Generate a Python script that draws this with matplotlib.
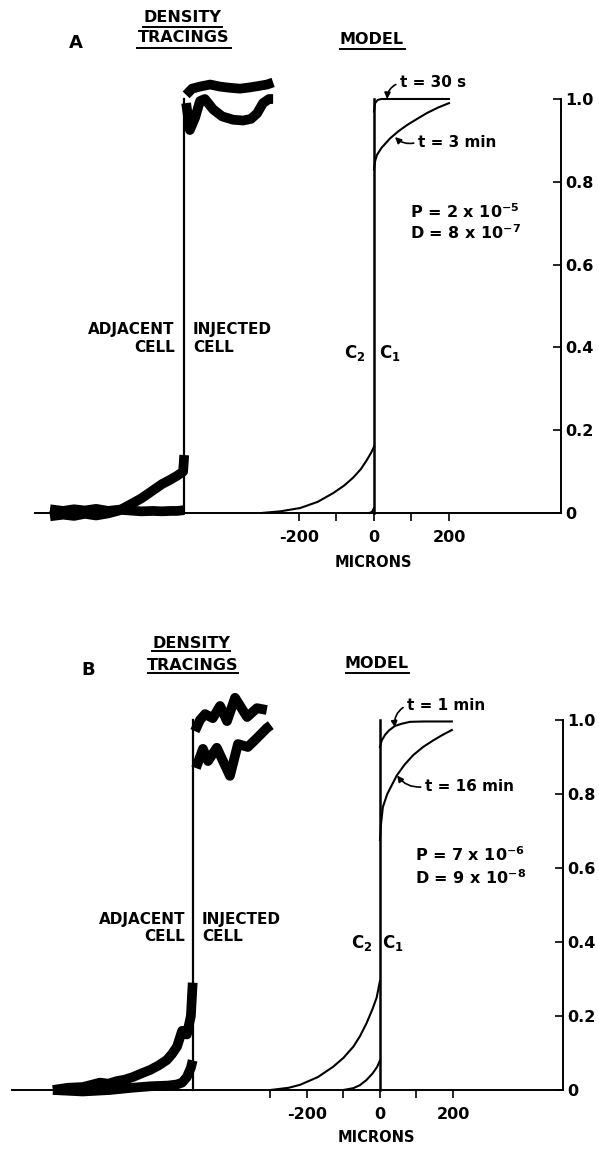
import matplotlib
matplotlib.use("Agg")
import matplotlib.pyplot as plt
from matplotlib.lines import Line2D

W, H = 599, 1149

# ---------------- Panel A data ----------------
# density tracings (microns, relative density)
a_adj_up_x = [-864, -829, -800, -771, -741, -709, -680, -651, -621, -589, -565, -544, -525, -509, -506]
a_adj_up_y = [-0.008, -0.004, -0.007, -0.002, -0.006, -0.001, 0.006, 0.02, 0.035, 0.055, 0.07, 0.08, 0.09, 0.1, 0.14]
a_adj_lo_x = [-864, -829, -800, -771, -741, -709, -680, -651, -621, -589, -565, -544, -525, -506]
a_adj_lo_y = [0.009, 0.005, 0.009, 0.006, 0.01, 0.005, 0.008, 0.006, 0.004, 0.005, 0.004, 0.005, 0.005, 0.007]
a_inj_up_x = [-501, -485, -464, -437, -411, -384, -357, -331, -304, -285, -269]
a_inj_up_y = [1.01, 1.025, 1.03, 1.035, 1.03, 1.027, 1.025, 1.028, 1.032, 1.035, 1.04]
a_inj_lo_x = [-501, -491, -477, -464, -451, -429, -405, -376, -349, -328, -312, -296, -280, -269]
a_inj_lo_y = [0.99, 0.925, 0.955, 0.995, 1.0, 0.975, 0.958, 0.95, 0.948, 0.952, 0.965, 0.99, 1.0, 1.0]
a_step_x = -506

# model curves
a_c2_3min_x = [-300, -250, -197, -150, -109, -80, -56, -35, -19, -8, 0]
a_c2_3min_y = [0.0, 0.004, 0.012, 0.027, 0.048, 0.066, 0.085, 0.106, 0.128, 0.145, 0.16]
a_c1_3min_x = [0, 3, 8, 20, 43, 65, 88, 115, 141, 170, 200]
a_c1_3min_y = [0.83, 0.85, 0.865, 0.882, 0.905, 0.922, 0.937, 0.952, 0.966, 0.979, 0.99]
a_c2_30s_x = [-12, -5, 0]
a_c2_30s_y = [0.0, 0.003, 0.012]
a_c1_30s_x = [0, 3, 10, 20, 200]
a_c1_30s_y = [0.97, 0.99, 0.998, 1.0, 1.0]

# ---------------- Panel B data ----------------
b_adj_up_x = [-896, -855, -814, -790, -767, -744, -721, -699, -677, -653, -630, -607, -584, -570, -556, -542, -529, -518, -513]
b_adj_up_y = [0.0, 0.006, 0.008, 0.014, 0.02, 0.017, 0.024, 0.028, 0.035, 0.045, 0.054, 0.066, 0.081, 0.097, 0.117, 0.16, 0.15, 0.2, 0.29]
b_adj_lo_x = [-896, -814, -740, -680, -630, -580, -556, -542, -529, -518, -513]
b_adj_lo_y = [0.0, -0.004, 0.0, 0.006, 0.01, 0.012, 0.015, 0.02, 0.035, 0.06, 0.08]
b_inj_up_x = [-507, -493, -479, -458, -438, -419, -397, -364, -337, -310]
b_inj_up_y = [0.97, 1.0, 1.016, 1.005, 1.038, 0.997, 1.06, 1.008, 1.032, 1.027]
b_inj_lo_x = [-504, -485, -471, -447, -411, -389, -362, -337, -310, -299]
b_inj_lo_y = [0.87, 0.922, 0.889, 0.925, 0.849, 0.935, 0.927, 0.951, 0.978, 0.986]
b_step_x = -512

b_c2_16min_x = [-300, -250, -219, -170, -128, -100, -73, -55, -37, -20, -9, 0]
b_c2_16min_y = [0.0, 0.006, 0.014, 0.035, 0.063, 0.087, 0.117, 0.145, 0.18, 0.22, 0.25, 0.295]
b_c1_16min_x = [0, 3, 8, 20, 46, 68, 91, 118, 146, 172, 197]
b_c1_16min_y = [0.676, 0.72, 0.765, 0.8, 0.85, 0.88, 0.905, 0.927, 0.945, 0.96, 0.973]
b_c2_1min_x = [-100, -73, -55, -37, -20, -8, 0]
b_c2_1min_y = [0.0, 0.005, 0.013, 0.027, 0.045, 0.062, 0.08]
b_c1_1min_x = [0, 5, 14, 25, 41, 60, 82, 120, 197]
b_c1_1min_y = [0.927, 0.945, 0.96, 0.972, 0.984, 0.99, 0.995, 0.996, 0.996]

x_ticks_a = [-200, -100, 0, 100, 200]
x_ticks_b = [-300, -200, -100, 0, 100, 200]
y_ticks = [0, 0.2, 0.4, 0.6, 0.8, 1.0]
y_labels = ['0', '0.2', '0.4', '0.6', '0.8', '1.0']

plt.rcParams['font.family'] = ['DejaVu Sans']
plt.rcParams['font.weight'] = 'bold'
plt.rcParams['mathtext.fontset'] = 'dejavusans'
plt.rcParams['mathtext.default'] = 'bf'

fig = plt.figure(figsize=(W / 100, H / 100), dpi=100, facecolor='white')


def px_axes(xl, xr, y0, ppu, ylo, yhi):
    bot = y0 - ylo * ppu
    top = y0 - yhi * ppu
    return fig.add_axes([xl / W, 1 - bot / H, (xr - xl) / W, (bot - top) / H])


def ftext(x, y, s, **kw):
    fig.text(x / W, 1 - y / H, s, **kw)


def uline(x1, x2, y):
    fig.add_artist(Line2D([x1 / W, x2 / W], [1 - y / H, 1 - y / H], color='black', lw=1.4))


def style_axes(ax, xlim, ylim, xticks):
    ax.set_xlim(xlim)
    ax.set_ylim(ylim)
    ax.spines['top'].set_visible(False)
    ax.spines['left'].set_visible(False)
    ax.spines['bottom'].set_position(('data', 0))
    ax.spines['bottom'].set_bounds(xlim[0], xlim[1])
    ax.spines['right'].set_bounds(0, 1.0)
    for s in ('bottom', 'right'):
        ax.spines[s].set_linewidth(1.4)
    ax.yaxis.tick_right()
    ax.set_yticks(y_ticks)
    ax.set_yticklabels(y_labels)
    ax.set_xticks(xticks)
    ax.set_xticklabels([('-200' if t == -200 else str(t)) if t in (-200, 0, 200) else '' for t in xticks])
    ax.tick_params(axis='y', direction='in', length=6, width=1.2, pad=3, labelsize=11.5)
    ax.tick_params(axis='x', direction='out', length=6, width=1.2, pad=6, labelsize=11.5)
    ax.patch.set_alpha(0)


def draw_panel(ax, adj_up, adj_lo, inj_up, inj_lo, step_x, model):
    band = dict(color='black', lw=7, solid_joinstyle='round', solid_capstyle='butt')
    ax.plot(*adj_lo, **band)
    ax.plot(*adj_up, **band)
    ax.plot(*inj_up, **band)
    ax.plot(*inj_lo, **band)
    ax.plot([step_x, step_x], [0, 1.0], color='black', lw=1.6)
    ax.plot([0, 0], [0, 1.0], color='black', lw=1.8)
    for xs, ys in model:
        ax.plot(xs, ys, color='black', lw=1.5)


arrow = dict(arrowstyle='-|>', color='black', lw=1.2, mutation_scale=9, relpos=(0, 0.5),
             shrinkA=1, shrinkB=0)
lab = dict(fontsize=11, fontweight='bold')

# ================= Panel A =================
axA = px_axes(35, 561, 513, 414, -0.04, 1.1)
style_axes(axA, (-904, 498.7), (-0.04, 1.1), x_ticks_a)
draw_panel(axA, (a_adj_up_x, a_adj_up_y), (a_adj_lo_x, a_adj_lo_y),
           (a_inj_up_x, a_inj_up_y), (a_inj_lo_x, a_inj_lo_y), a_step_x,
           [(a_c2_3min_x, a_c2_3min_y), (a_c1_3min_x, a_c1_3min_y),
            (a_c2_30s_x, a_c2_30s_y), (a_c1_30s_x, a_c1_30s_y)])

axA.annotate('t = 30 s', xy=(35, 1.0), xytext=(69, 1.039), ha='left', va='center',
             arrowprops=dict(arrow, connectionstyle='arc3,rad=0.35'), **lab)
axA.annotate('t = 3 min', xy=(56, 0.908), xytext=(117, 0.896), ha='left', va='center',
             arrowprops=dict(arrow, connectionstyle='arc3,rad=-0.3'), **lab)
axA.text(96, 0.727, r'P = 2 x 10$^{-5}$', fontsize=11.5, ha='left', va='center')
axA.text(96, 0.676, r'D = 8 x 10$^{-7}$', fontsize=11.5, ha='left', va='center')
axA.text(-51, 0.386, r'C$_2$', fontsize=12, ha='center', va='center')
axA.text(43, 0.386, r'C$_1$', fontsize=12, ha='center', va='center')
axA.text(-531, 0.444, 'ADJACENT', ha='right', va='center', **lab)
axA.text(-531, 0.399, 'CELL', ha='right', va='center', **lab)
axA.text(-483, 0.444, 'INJECTED', ha='left', va='center', **lab)
axA.text(-483, 0.399, 'CELL', ha='left', va='center', **lab)

ftext(76, 43, 'A', fontsize=13, ha='center', va='center')
ftext(182, 17, 'DENSITY', fontsize=11.5, ha='center', va='center')
ftext(184, 38, 'TRACINGS', fontsize=11.5, ha='center', va='center')
uline(143, 222, 27)
uline(137, 231, 48)
ftext(372, 39, 'MODEL', fontsize=11.5, ha='center', va='center')
uline(340, 405, 49)
ftext(373, 562, 'MICRONS', fontsize=10.5, ha='center', va='center')

# ================= Panel B =================
axB = px_axes(12, 563, 1090, 370, -0.05, 1.1)
style_axes(axB, (-1008, 501.4), (-0.05, 1.1), x_ticks_b)
draw_panel(axB, (b_adj_up_x, b_adj_up_y), (b_adj_lo_x, b_adj_lo_y),
           (b_inj_up_x, b_inj_up_y), (b_inj_lo_x, b_inj_lo_y), b_step_x,
           [(b_c2_16min_x, b_c2_16min_y), (b_c1_16min_x, b_c1_16min_y),
            (b_c2_1min_x, b_c2_1min_y), (b_c1_1min_x, b_c1_1min_y)])

axB.annotate('t = 1 min', xy=(41, 0.98), xytext=(74, 1.04), ha='left', va='center',
             arrowprops=dict(arrow, connectionstyle='arc3,rad=0.35'), **lab)
axB.annotate('t = 16 min', xy=(47, 0.85), xytext=(123, 0.82), ha='left', va='center',
             arrowprops=dict(arrow, connectionstyle='arc3,rad=-0.3'), **lab)
axB.text(96, 0.635, r'P = 7 x 10$^{-6}$', fontsize=11.5, ha='left', va='center')
axB.text(96, 0.573, r'D = 9 x 10$^{-8}$', fontsize=11.5, ha='left', va='center')
axB.text(-49, 0.397, r'C$_2$', fontsize=12, ha='center', va='center')
axB.text(36, 0.397, r'C$_1$', fontsize=12, ha='center', va='center')
axB.text(-534, 0.462, 'ADJACENT', ha='right', va='center', **lab)
axB.text(-534, 0.414, 'CELL', ha='right', va='center', **lab)
axB.text(-488, 0.462, 'INJECTED', ha='left', va='center', **lab)
axB.text(-488, 0.414, 'CELL', ha='left', va='center', **lab)

ftext(88, 670, 'B', fontsize=13, ha='center', va='center')
ftext(191, 643, 'DENSITY', fontsize=11.5, ha='center', va='center')
ftext(193, 665, 'TRACINGS', fontsize=11.5, ha='center', va='center')
uline(152, 230, 651)
uline(148, 238, 673)
ftext(377, 663, 'MODEL', fontsize=11.5, ha='center', va='center')
uline(346, 409, 673)
ftext(376, 1138, 'MICRONS', fontsize=10.5, ha='center', va='center')

fig.savefig('out.png', dpi=100, facecolor='white')
